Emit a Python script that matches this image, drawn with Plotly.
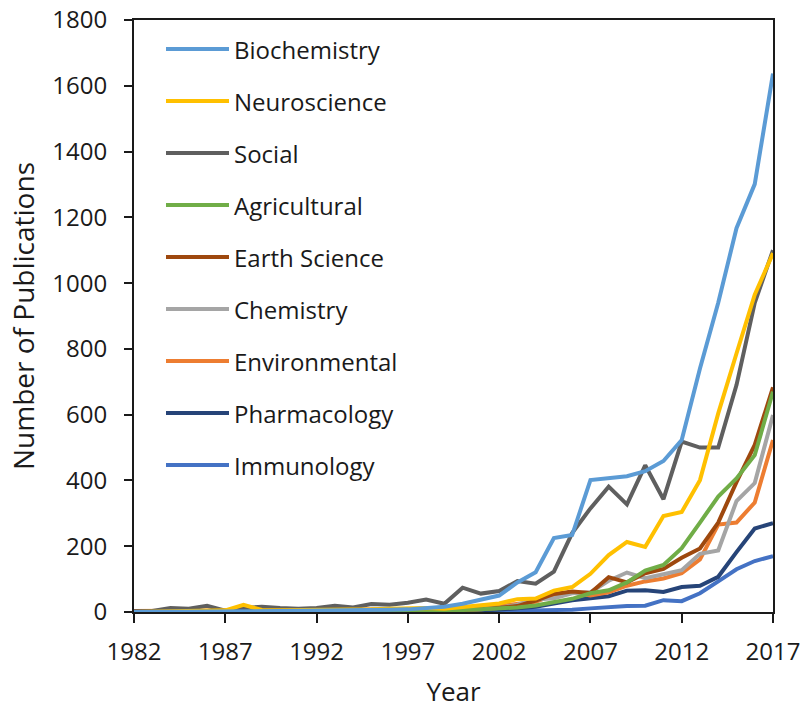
import plotly.graph_objects as go

years = list(range(1982, 2018))

series_names = ["Biochemistry", "Neuroscience", "Social", "Agricultural", "Earth Science",
                "Chemistry", "Environmental", "Pharmacology", "Immunology"]
series_colors = ["#5B9BD5", "#FFC000", "#5F5F5F", "#70AD47", "#9E480E",
                 "#A5A5A5", "#ED7D31", "#264478", "#4472C4"]

biochemistry = [0, 0, 1, 1, 2, 2, 3, 3, 3, 4, 4, 5, 5, 6, 7, 8, 11, 16, 25, 37,
                50, 90, 121, 225, 234, 401, 406, 413, 428, 459, 523, 740, 940, 1167, 1301, 1637]
neuroscience = [0, 1, 2, 3, 3, 5, 22, 6, 5, 5, 6, 5, 7, 8, 10, 12, 12, 10, 15, 18,
                26, 39, 41, 65, 76, 116, 173, 213, 198, 292, 304, 401, 604, 786, 965, 1091]
social = [2, 3, 12, 10, 19, 4, 12, 16, 12, 10, 12, 19, 14, 24, 22, 28, 38, 25, 74, 56,
          64, 94, 86, 123, 240, 315, 381, 327, 446, 343, 518, 500, 500, 690, 940, 1100]
agricultural = [0, 0, 1, 1, 1, 2, 2, 2, 3, 3, 3, 3, 4, 4, 4, 5, 4, 5, 6, 8,
                10, 14, 20, 31, 40, 57, 66, 90, 126, 143, 194, 272, 351, 406, 477, 670]
earth_science = [1, 1, 2, 2, 2, 3, 3, 3, 4, 4, 4, 4, 5, 5, 5, 6, 3, 4, 6, 8,
                 12, 18, 35, 55, 62, 58, 106, 90, 118, 131, 165, 193, 272, 395, 508, 683]
chemistry = [0, 0, 1, 1, 1, 1, 2, 2, 2, 2, 3, 3, 3, 3, 4, 4, 4, 4, 5, 8,
             12, 22, 38, 42, 57, 60, 95, 120, 103, 115, 127, 177, 187, 337, 392, 599]
environmental = [3, 3, 4, 4, 4, 5, 5, 5, 6, 6, 6, 7, 7, 8, 9, 10, 10, 8, 10, 12,
                 18, 22, 31, 52, 59, 50, 60, 80, 93, 102, 118, 160, 266, 272, 333, 523]
pharmacology = [0, 0, 0, 0, 0, 1, 1, 1, 1, 1, 1, 1, 1, 2, 2, 2, 2, 2, 2, 4,
                6, 11, 16, 26, 36, 42, 48, 65, 66, 61, 76, 80, 107, 182, 254, 270]
immunology = [0, 0, 0, 0, 0, 0, 0, 0, 0, 0, 0, 0, 0, 0, 0, 0, 0, 0, 1, 2,
              3, 4, 5, 6, 7, 11, 16, 18, 19, 36, 33, 57, 93, 130, 155, 170]

series_values = [biochemistry, neuroscience, social, agricultural, earth_science,
                 chemistry, environmental, pharmacology, immunology]

x_ticks = list(range(1982, 2018, 5))
y_ticks = list(range(0, 1801, 200))

FONT = "Open Sans"
TXT = "#1a1a1a"

fig = go.Figure()
# draw in reverse so Biochemistry is on top
for name, color, vals in reversed(list(zip(series_names, series_colors, series_values))):
    fig.add_trace(go.Scatter(x=years, y=vals, mode="lines", name=name,
                             line=dict(color=color, width=4), showlegend=False))

# plot area geometry (pixels)
W, H = 804, 709
ML, MR, MT, MB = 134, 31, 20, 97
PW, PH = W - ML - MR, H - MT - MB

def px_to_paper_x(px):
    return (px - ML) / PW

def px_to_paper_y(py):
    return (H - MB - py) / PH

# manual legend (long line samples like the original)
leg_line_x0, leg_line_x1, leg_text_x = 166, 229, 232
leg_y0, leg_dy = 49, 52
shapes = []
annotations = []
for i, (name, color) in enumerate(zip(series_names, series_colors)):
    py = leg_y0 + i * leg_dy
    yp = px_to_paper_y(py)
    shapes.append(dict(type="line", xref="paper", yref="paper",
                       x0=px_to_paper_x(leg_line_x0), x1=px_to_paper_x(leg_line_x1),
                       y0=yp, y1=yp, line=dict(color=color, width=4)))
    annotations.append(dict(xref="paper", yref="paper", x=px_to_paper_x(leg_text_x), y=yp,
                            text=name, showarrow=False, xanchor="left", yanchor="middle",
                            font=dict(family=FONT, size=24, color=TXT)))

fig.update_layout(
    width=W, height=H,
    margin=dict(l=ML, r=MR, t=MT, b=MB, autoexpand=False),
    paper_bgcolor="white", plot_bgcolor="white",
    font=dict(family=FONT, size=24, color=TXT),
    shapes=shapes, annotations=annotations,
    showlegend=False,
)
fig.update_xaxes(
    range=[1982, 2017], tickvals=x_ticks, ticktext=[str(v) for v in x_ticks],
    showgrid=False, zeroline=False, automargin=False,
    showline=True, linecolor="#1a1a1a", linewidth=2, mirror=True,
    ticks="outside", ticklen=9, tickwidth=2, tickcolor="#1a1a1a",
    tickfont=dict(family=FONT, size=24, color=TXT),
    ticklabelstandoff=8,
    title=dict(text="Year", font=dict(family=FONT, size=26, color=TXT), standoff=20),
)
fig.update_yaxes(
    range=[0, 1800], tickvals=y_ticks, ticktext=[str(v) for v in y_ticks],
    showgrid=False, zeroline=False, automargin=False,
    showline=True, linecolor="#1a1a1a", linewidth=2, mirror=True,
    ticks="outside", ticklen=8, tickwidth=2, tickcolor="#1a1a1a",
    tickfont=dict(family=FONT, size=24, color=TXT),
    ticklabelstandoff=12,
    title=dict(text="Number of Publications", font=dict(family=FONT, size=28, color=TXT), standoff=10),
)

fig.write_html("out.html", config={"displayModeBar": False},
               post_script="document.body.style.margin='0';document.body.style.overflow='hidden';")
